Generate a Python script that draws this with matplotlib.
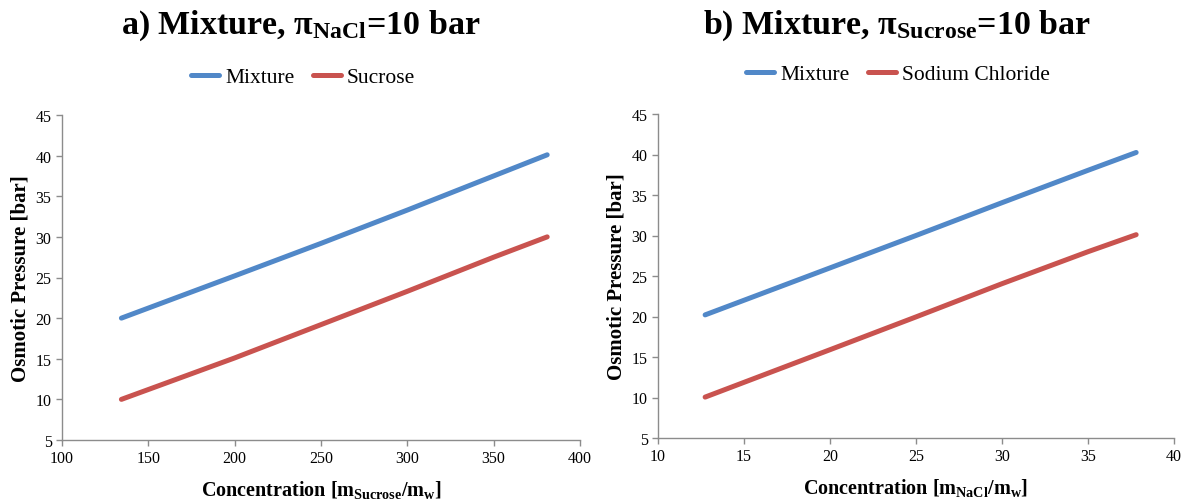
import matplotlib
matplotlib.use("Agg")
import matplotlib.pyplot as plt

# ── Data ─────────────────────────────────────────────────────────────────────
# a) NaCl fixed at 10 bar, sucrose concentration varied
conc_sucrose   = [134.4, 200, 250, 300, 350, 381]
mix_a          = [20.0, 25.2, 29.2, 33.3, 37.5, 40.1]
sucrose_only   = [10.0, 15.1, 19.2, 23.3, 27.5, 30.0]

# b) sucrose fixed at 10 bar, NaCl concentration varied
conc_nacl      = [12.74, 20, 25, 30, 35, 37.8]
mix_b          = [20.2, 26.0, 30.0, 34.05, 38.05, 40.25]
nacl_only      = [10.05, 15.9, 19.95, 24.05, 28.0, 30.1]

BLUE = "#5188C8"
RED  = "#C9534F"
GREY = "#8C8C8C"

plt.rcParams["font.family"] = ["Liberation Serif", "DejaVu Serif"]
plt.rcParams["mathtext.fontset"] = "custom"
plt.rcParams["mathtext.rm"] = "Liberation Serif"
plt.rcParams["mathtext.bf"] = "Liberation Serif:bold"
plt.rcParams["mathtext.it"] = "Liberation Serif:italic"

W, H = 1186, 502
fig = plt.figure(figsize=(W / 100, H / 100), dpi=100)


def px_axes(left, right, top, bottom):
    return fig.add_axes([left / W, 1 - bottom / H, (right - left) / W, (bottom - top) / H])


def style(ax, xlim, xticks):
    ax.set_xlim(*xlim)
    ax.set_xticks(xticks)
    ax.set_ylim(5, 45)
    ax.set_yticks(range(5, 46, 5))
    for s in ("top", "right"):
        ax.spines[s].set_visible(False)
    for s in ("left", "bottom"):
        ax.spines[s].set_color(GREY)
        ax.spines[s].set_linewidth(1.0)
    ax.tick_params(direction="out", length=4, width=1.0, color=GREY, labelsize=11.5)
    ax.set_ylabel("Osmotic Pressure [bar]", fontsize=15, fontweight="bold", labelpad=4)


leg_kw = dict(loc="center", ncol=2, frameon=False, fontsize=15.5, handlelength=1.3,
              handletextpad=0.28, columnspacing=0.85)

# ── Panel a ──────────────────────────────────────────────────────────────────
ax1 = px_axes(62, 580, 116, 441)
ax1.plot(conc_sucrose, mix_a, color=BLUE, lw=3.6, solid_capstyle="round", label="Mixture")
ax1.plot(conc_sucrose, sucrose_only, color=RED, lw=3.6, solid_capstyle="round", label="Sucrose")
style(ax1, (100, 400), range(100, 401, 50))
ax1.set_xlabel(r"Concentration [m$_{\mathbf{Sucrose}}$/m$_{\mathbf{w}}$]", fontsize=14.5,
               fontweight="bold", labelpad=8)
fig.text(301 / W, 1 - 26 / H, r"a) Mixture, π$_{\mathbf{NaCl}}$=10 bar",
         ha="center", va="center", fontsize=24.5, fontweight="bold")
ax1.legend(bbox_to_anchor=(303 / W, 1 - 78 / H), bbox_transform=fig.transFigure, **leg_kw)

# ── Panel b ──────────────────────────────────────────────────────────────────
ax2 = px_axes(658, 1174, 115, 439)
ax2.plot(conc_nacl, mix_b, color=BLUE, lw=3.6, solid_capstyle="round", label="Mixture")
ax2.plot(conc_nacl, nacl_only, color=RED, lw=3.6, solid_capstyle="round", label="Sodium Chloride")
style(ax2, (10, 40), range(10, 41, 5))
ax2.set_xlabel(r"Concentration [m$_{\mathbf{NaCl}}$/m$_{\mathbf{w}}$]", fontsize=14.5,
               fontweight="bold", labelpad=8)
fig.text(897 / W, 1 - 26 / H, r"b) Mixture, π$_{\mathbf{Sucrose}}$=10 bar",
         ha="center", va="center", fontsize=24.5, fontweight="bold")
ax2.legend(bbox_to_anchor=(898 / W, 1 - 75 / H), bbox_transform=fig.transFigure, **leg_kw)

fig.savefig("out.png", dpi=100)
